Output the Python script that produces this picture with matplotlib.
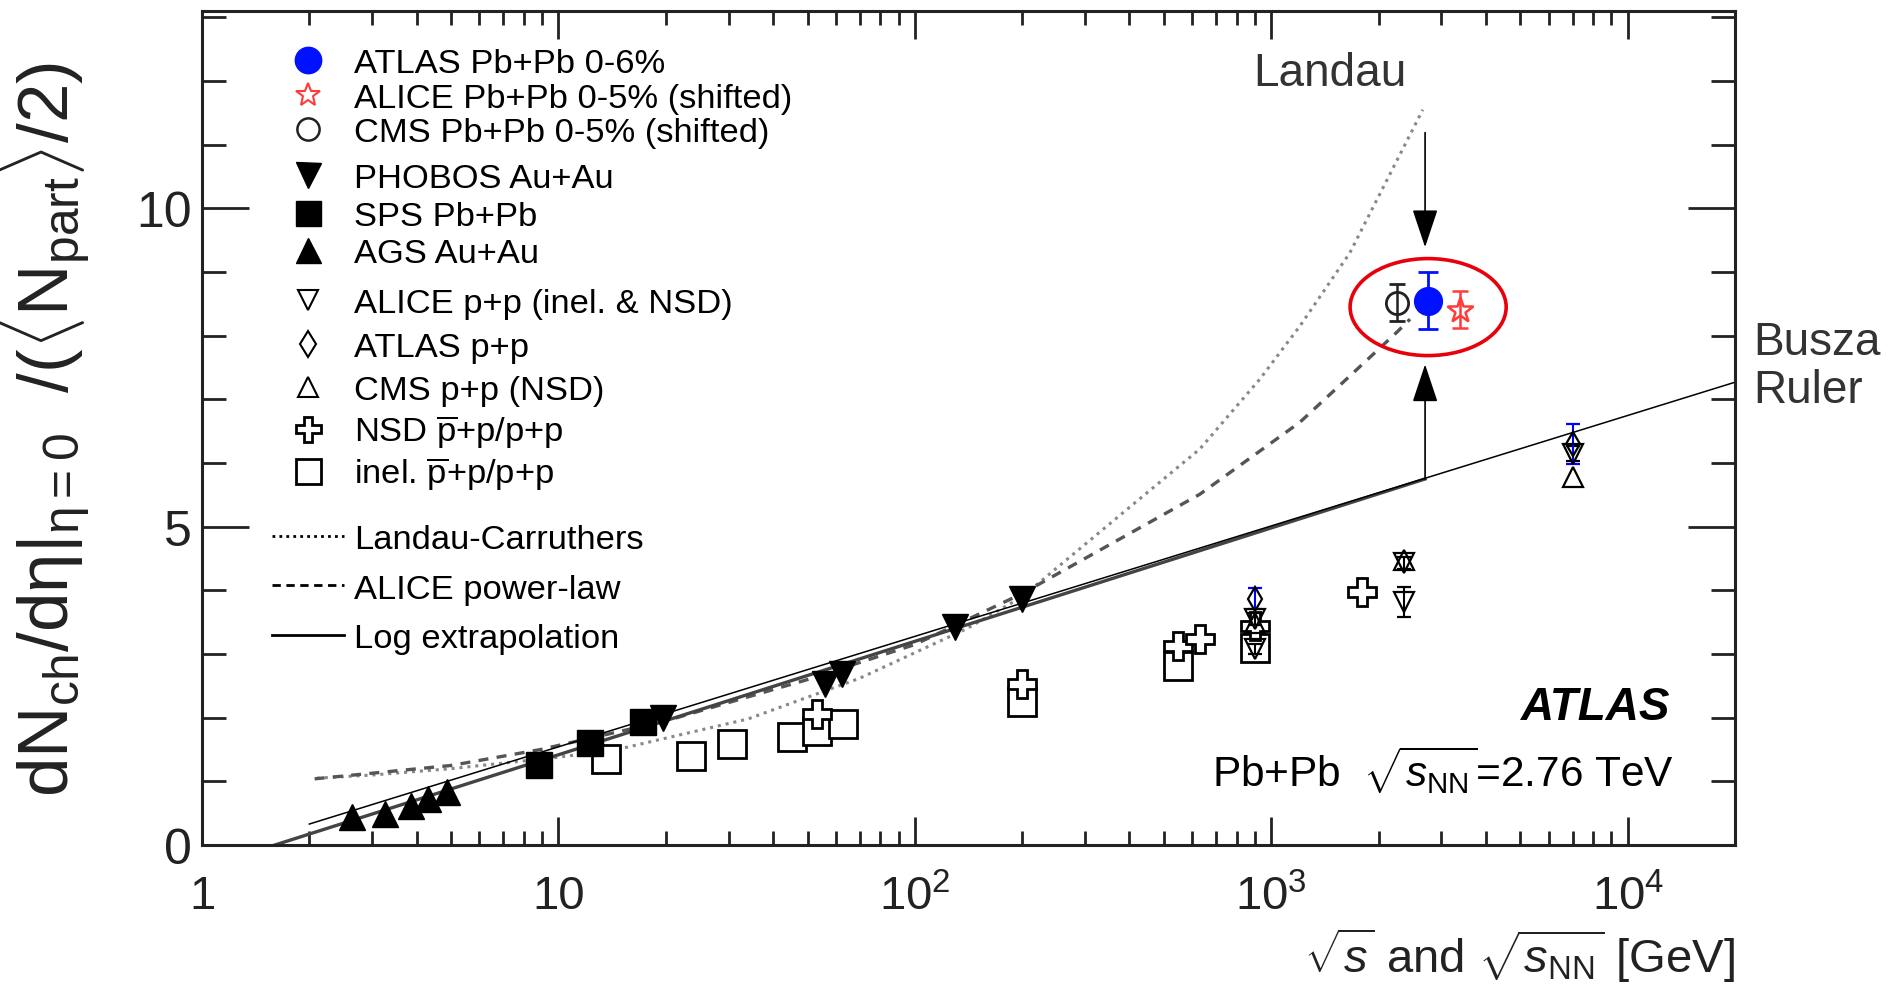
import numpy as np
import matplotlib.pyplot as plt
from matplotlib.patches import Ellipse
from matplotlib.ticker import FixedLocator, NullFormatter
from matplotlib.lines import Line2D

plt.rcParams['font.family'] = ['Liberation Sans', 'DejaVu Sans']
plt.rcParams['mathtext.fontset'] = 'custom'
plt.rcParams['mathtext.rm'] = 'Liberation Sans'
plt.rcParams['mathtext.it'] = 'Liberation Sans:italic'
plt.rcParams['mathtext.bf'] = 'Liberation Sans:bold'

# --- heavy ion data ---
ags_x = [2.63, 3.26, 3.87, 4.31, 4.86]
ags_y = [0.44, 0.49, 0.62, 0.72, 0.83]
sps_x = [8.8, 12.3, 17.3]
sps_y = [1.25, 1.61, 1.94]
phobos_x = [19.6, 56, 62.4, 130, 200]
phobos_y = [2.00, 2.53, 2.68, 3.42, 3.86]
phobos_err = [0.1, 0.12, 0.12, 0.14, 0.15]
atlas_pbpb_x = [2754]
atlas_pbpb_y = [8.55]
atlas_pbpb_err = [0.45]
cms_pbpb_x = [2245]
cms_pbpb_y = [8.52]
cms_pbpb_err = [0.29]
alice_pbpb_x = [3380]
alice_pbpb_y = [8.41]
alice_pbpb_err = [0.29]

# --- p+p data ---
inel_x = [13.6, 23.6, 30.6, 45.1, 53.2, 62.7, 200, 546, 900]
inel_y = [1.35, 1.40, 1.585, 1.69, 1.79, 1.90, 2.24, 2.82, 3.10]
nsd_x = [53.2, 200, 546, 630, 900, 1800]
nsd_y = [2.06, 2.53, 3.13, 3.23, 3.44, 3.98]
alice_pp_x = [900, 900, 2360, 2360, 7000]
alice_pp_y = [3.08, 3.55, 3.82, 4.43, 6.15]
alice_pp_err = [0.08, 0.1, 0.24, 0.1, 0.12]
cms_pp_x = [900, 2360, 7000]
cms_pp_y = [3.48, 4.47, 5.78]
atlas_pp_x = [900, 7000]
atlas_pp_y = [3.87, 6.30]
atlas_pp_err = [0.17, 0.31]

# --- curves ---
landau_x = [2.1, 3, 5, 10, 14.6, 34, 70, 140, 200, 409, 630, 929, 1202, 1660, 2660]
landau_y = [1.05, 1.1, 1.2, 1.38, 1.5, 1.98, 2.62, 3.4, 3.9, 5.35, 6.22, 7.32, 8.15, 9.3, 11.55]
power_x = [2.07, 5, 8.9, 20, 50, 100, 200, 630, 1202, 1626, 2245, 2450]
power_y = [1.04, 1.25, 1.5, 1.95, 2.6, 3.15, 3.95, 5.51, 6.64, 7.32, 8.05, 8.26]
log_x = [1.6, 2700]
log_y = [0.0, 5.75]
busza_x = [2.0, 20000]
busza_y = [0.33, 7.27]
arrow_x = 2700
arrow_down = (11.19, 9.39)
arrow_up = (5.75, 7.55)

fig = plt.figure(figsize=(18.95, 9.95), dpi=100)
ax = fig.add_axes([0.1066, 0.1497, 0.8090, 0.8382])
ax.set_xscale('log')
ax.set_xlim(1, 20000)
ax.set_ylim(0, 13.1)

ax.plot(landau_x, landau_y, color='#888888', lw=2.2, linestyle=(0, (1, 1.6)))
ax.plot(power_x, power_y, color='#555555', lw=2.4, linestyle=(0, (3, 2.5)))
ax.plot(log_x, log_y, color='#444444', lw=2.4)
ax.plot(busza_x, busza_y, color='black', lw=1.1)

ax.errorbar(phobos_x, phobos_y, yerr=phobos_err, fmt='none', ecolor='#22bb22', elinewidth=1.5)
ax.plot(inel_x, inel_y, 's', ms=20, mfc='white', mec='black', mew=2, ls='none')
ax.plot(nsd_x, nsd_y, 'P', ms=20, mfc='white', mec='black', mew=2, ls='none')
ax.errorbar(alice_pp_x, alice_pp_y, yerr=alice_pp_err, fmt='v', ms=14, mfc='none', mec='black',
            mew=1.6, ecolor='black', elinewidth=1.5, capsize=5)
ax.plot(cms_pp_x, cms_pp_y, '^', ms=14, mfc='none', mec='black', mew=1.6, ls='none')
ax.errorbar(atlas_pp_x, atlas_pp_y, yerr=atlas_pp_err, fmt='d', ms=12, mfc='none', mec='black',
            mew=1.6, ecolor='blue', elinewidth=1.5, capsize=5)
ax.plot(ags_x, ags_y, '^', ms=19, color='black', ls='none')
ax.plot(sps_x, sps_y, 's', ms=19, color='black', ls='none')
ax.plot(phobos_x, phobos_y, 'v', ms=19, color='black', ls='none')
ax.errorbar(cms_pbpb_x, cms_pbpb_y, yerr=cms_pbpb_err, fmt='o', ms=16, mfc='none', mec='#222222',
            mew=2, ecolor='#222222', elinewidth=1.8, capsize=6)
ax.errorbar(alice_pbpb_x, alice_pbpb_y, yerr=alice_pbpb_err, fmt='*', ms=19, mfc='none', mec='#ff3b3b',
            mew=1.8, ecolor='#ff3b3b', elinewidth=1.8, capsize=6)
ax.errorbar(atlas_pbpb_x, atlas_pbpb_y, yerr=atlas_pbpb_err, fmt='o', ms=20, color='#0011ff',
            ecolor='#0011ff', elinewidth=2, capsize=7, capthick=2)

# arrows pointing to the ALICE/ATLAS/CMS points
for y0, y1 in (arrow_down, arrow_up):
    ax.annotate('', xy=(arrow_x, y1), xytext=(arrow_x, y0),
                arrowprops=dict(arrowstyle='-|>,head_length=1.2,head_width=0.4', mutation_scale=20,
                                color='black', lw=1.2, shrinkA=0, shrinkB=0))

# red ellipse around the LHC Pb+Pb points
cx, cy = ax.transAxes.inverted().transform(ax.transData.transform((atlas_pbpb_x[0], atlas_pbpb_y[0] - 0.1)))
ax.add_patch(Ellipse((cx, cy), 0.1018, 0.1163, transform=ax.transAxes, fill=False,
                     ec='#e8000b', lw=2.6, zorder=5))

ax.text(0.736, 0.926, 'Landau', transform=ax.transAxes, ha='center', va='center',
        fontsize=33, color='#333333')
ax.text(1.012, 0.574, 'Busza\nRuler', transform=ax.transAxes, ha='left', va='center',
        fontsize=33, color='#333333', linespacing=1.12)
ax.text(0.958, 0.166, 'ATLAS', transform=ax.transAxes, ha='right', va='center',
        fontsize=33, fontweight='bold', fontstyle='italic')
ax.text(0.960, 0.091, r'Pb+Pb  $\sqrt{s_{\mathrm{NN}}}$=2.76 TeV', transform=ax.transAxes,
        ha='right', va='center', fontsize=30.5)

# axes, ticks
for s in ax.spines.values():
    s.set_linewidth(2.2)
    s.set_color('#222222')
ax.xaxis.set_major_locator(FixedLocator([1, 10, 100, 1000, 10000]))
ax.set_xticklabels(['1', '10', r'$10^2$', r'$10^3$', r'$10^4$'])
minors = [m * 10 ** d for d in range(5) for m in range(2, 10) if m * 10 ** d <= 20000]
ax.xaxis.set_minor_locator(FixedLocator(minors))
ax.xaxis.set_minor_formatter(NullFormatter())
ax.yaxis.set_major_locator(FixedLocator([0, 5, 10]))
ax.yaxis.set_minor_locator(FixedLocator(list(range(0, 14))))
ax.tick_params(axis='y', which='major', direction='in', length=34, width=2, left=True,
               right=True, labelsize=36, pad=7, colors='#222222')
ax.tick_params(axis='y', which='minor', direction='in', length=17, width=2, left=True,
               right=True, colors='#222222')
ax.tick_params(axis='x', which='major', direction='in', length=20, width=2, top=True,
               bottom=True, labelsize=34, pad=21, colors='#222222')
ax.tick_params(axis='x', which='minor', direction='in', length=10, width=2, top=True,
               bottom=True, colors='#222222')

fig.text(0.0235, 0.568,
         r'$\mathrm{dN_{ch}/d\eta|_{\eta=0}\ \ /(\langle N_{part}\rangle/2)}$',
         rotation=90, ha='center', va='center', fontsize=51, color='#222222')
fig.text(0.9156, 0.04, r'$\sqrt{s}$ and $\sqrt{s_{\mathrm{NN}}}$ [GeV]', ha='right',
         va='center', fontsize=34, color='#222222')

# legends
def mk(marker, **kw):
    return Line2D([], [], marker=marker, ls='none', **kw)

groups = [
    ([mk('o', ms=19, color='#0011ff'),
      mk('*', ms=18, mfc='none', mec='#ff3b3b', mew=1.5),
      mk('o', ms=16, mfc='none', mec='#222222', mew=1.8)],
     ['ATLAS Pb+Pb 0-6%', 'ALICE Pb+Pb 0-5% (shifted)', 'CMS Pb+Pb 0-5% (shifted)'],
     0.9555, 0.1),
    ([mk('v', ms=18, color='black'), mk('s', ms=18, color='black'), mk('^', ms=18, color='black')],
     ['PHOBOS Au+Au', 'SPS Pb+Pb', 'AGS Au+Au'], 0.8175, 0.18),
    ([mk('v', ms=14, mfc='none', mec='black', mew=1.5),
      mk('d', ms=13, mfc='none', mec='black', mew=1.5),
      mk('^', ms=14, mfc='none', mec='black', mew=1.5)],
     ['ALICE p+p (inel. & NSD)', 'ATLAS p+p', 'CMS p+p (NSD)'],
     0.6675, 0.36),
    ([mk('P', ms=18, mfc='white', mec='black', mew=2),
      mk('s', ms=18, mfc='white', mec='black', mew=2)],
     [r'NSD $\overline{\mathrm{p}}$+p/p+p', r'inel. $\overline{\mathrm{p}}$+p/p+p'],
     0.519, 0.13),
]
for handles, labels, ytop, ls in groups:
    leg = ax.legend(handles, labels, loc='upper left', bbox_to_anchor=(0.058, ytop),
                    frameon=False, fontsize=24.8, borderpad=0, borderaxespad=0,
                    handlelength=1.0, handletextpad=0.82, labelspacing=ls)
    ax.add_artist(leg)

line_handles = [Line2D([], [], color='black', lw=2, ls=(0, (1, 1.5))),
                Line2D([], [], color='black', lw=2, ls=(0, (3, 2))),
                Line2D([], [], color='black', lw=2)]
ax.legend(line_handles, ['Landau-Carruthers', 'ALICE power-law', 'Log extrapolation'],
          loc='upper left', bbox_to_anchor=(0.0457, 0.3849), frameon=False, fontsize=24.8,
          borderpad=0, borderaxespad=0, handlelength=2.1, handletextpad=0.27, labelspacing=0.53)

fig.savefig('out.png', dpi=100)
